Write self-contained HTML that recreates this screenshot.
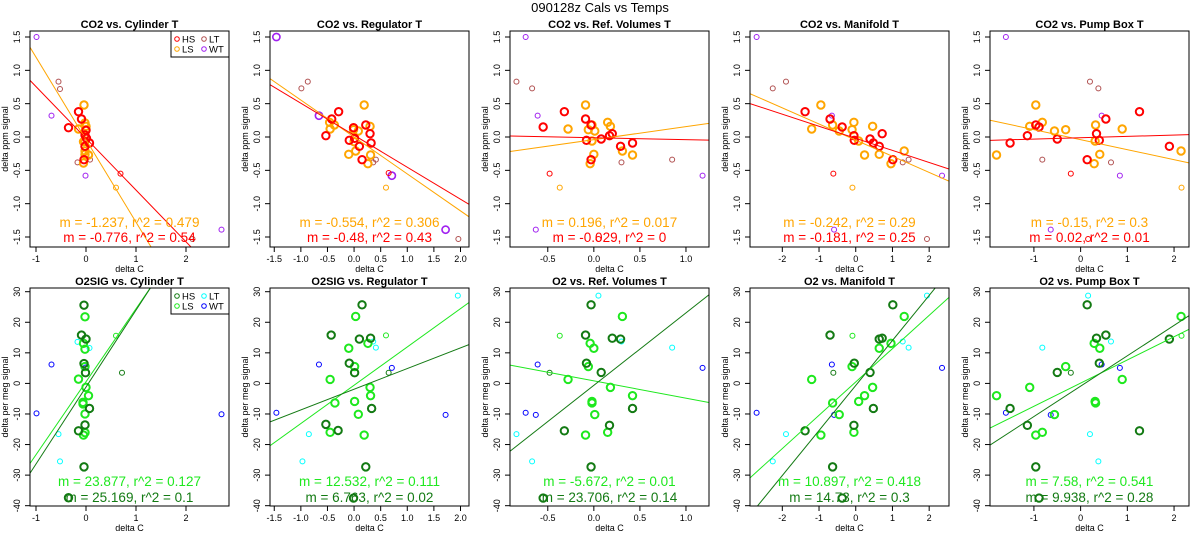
<!DOCTYPE html>
<html><head><meta charset="utf-8"><style>
body{margin:0;background:#fff;}
svg{display:block;font-family:"Liberation Sans",sans-serif;}
</style></head><body>
<svg id="chart" width="1200" height="550" viewBox="0 0 1200 550">
<rect x="0" y="0" width="1200" height="550" fill="#fff"/>
<text x="600" y="12" text-anchor="middle" font-size="13">090128z   Cals vs Temps</text>
</svg>
<script>
// ---- axis ranges / ticks per column ----
const colXMin=[-1.12,-1.58,-0.91,-2.88,-1.94];
const colXMax=[2.86,2.16,1.25,2.54,2.32];
const colXTicks=[[-1,0,1,2],[-1.5,-1,-0.5,0,0.5,1,1.5,2],[-0.5,0,0.5,1],[-2,-1,0,1,2],[-1,0,1,2]];
const colXTickLabels=[["-1","0","1","2"],["-1.5","-1.0","-0.5","0.0","0.5","1.0","1.5","2.0"],["-0.5","0.0","0.5","1.0"],["-2","-1","0","1","2"],["-1","0","1","2"]];
const topYTicks=[-1.5,-1,-0.5,0,0.5,1,1.5];
const topYTickLabels=["-1.5","-1.0","-0.5","0.0","0.5","1.0","1.5"];
const botYTicks=[-40,-30,-20,-10,0,10,20,30];
const botYTickLabels=["-40","-30","-20","-10","0","10","20","30"];
const topTitles=["CO2 vs. Cylinder T","CO2 vs. Regulator T","CO2 vs. Ref. Volumes T","CO2 vs. Manifold T","CO2 vs. Pump Box T"];
const botTitles=["O2SIG vs. Cylinder T","O2SIG vs. Regulator T","O2 vs. Ref. Volumes T","O2 vs. Manifold T","O2 vs. Pump Box T"];

// ---- CO2 (top row) data ----
const co2HS=[
[[-0.35,0.14],[-0.15,0.38],[-0.09,0.27],[-0.02,0.03],[0,0.1],[0.07,-0.09],[-0.02,-0.14],[-0.04,-0.34],[0.01,-0.02]],
[[-0.29,0.38],[-0.42,0.27],[-0.53,0.02],[-0.01,0.14],[0.01,-0.02],[-0.09,-0.05],[0.1,-0.14],[0.22,0.18],[0.3,0.05],[0.32,-0.09],[0.15,-0.34]],
[[-0.55,0.15],[-0.32,0.38],[-0.09,0.27],[-0.03,0.18],[-0.08,-0.05],[0.08,-0.03],[-0.03,-0.34],[0.17,0.02],[0.2,0.05],[0.29,-0.14],[0.42,-0.09]],
[[-1.38,0.38],[-0.7,0.27],[-0.37,0.15],[-0.05,0.02],[-0.04,-0.05],[0.39,-0.03],[0.48,-0.09],[0.64,-0.14],[0.72,0.05],[1.01,-0.34]],
[[-1.51,-0.09],[-1.14,0.02],[-0.96,0.18],[-0.89,0.15],[-0.5,-0.03],[0.14,-0.34],[0.34,0.05],[0.4,-0.05],[0.54,0.27],[1.26,0.38],[1.9,-0.14]]];
const co2HSsmall=[[[0.69,-0.55]],[[0.65,-0.54]],[[-0.48,-0.55],[0.05,-1.53]],[[-0.61,-0.55]],[[-0.21,-0.55],[0.16,-1.53]]];
const co2LS=[
[[-0.04,0.48],[-0.15,0.12],[-0.02,0.21],[0,0.11],[-0.02,-0.06],[-0.05,-0.07],[-0.02,-0.21],[-0.02,-0.26],[0.05,-0.27],[-0.05,-0.39],[0,0.16]],
[[0.19,0.48],[-0.46,0.22],[-0.45,0.12],[-0.37,0.18],[-0.01,0.11],[0.08,0.09],[0,-0.07],[0.03,-0.21],[-0.1,-0.26],[0.3,0.16],[0.31,-0.27],[0.26,-0.4]],
[[-0.09,0.48],[-0.28,0.12],[-0.06,0.11],[-0.02,0.18],[0.01,0.09],[-0.02,-0.06],[0,-0.26],[-0.04,-0.4],[0.15,0.22],[0.18,0.16],[0.31,-0.21],[0.42,-0.27]],
[[-0.95,0.48],[-1.2,0.12],[-0.63,0.18],[-0.45,0.09],[-0.1,0.11],[-0.05,0.22],[0.08,-0.06],[0.46,0.16],[0.24,-0.27],[0.64,-0.26],[0.96,-0.4],[1.32,-0.21]],
[[-1.8,-0.27],[-1.09,0.16],[-0.96,0.48],[-0.82,0.22],[-0.56,0.09],[-0.32,0.11],[0.32,0.18],[0.31,-0.06],[0.29,-0.4],[0.41,-0.26],[0.89,0.12],[2.15,-0.21]]];
const co2LSsmall=[[[0.6,-0.76]],[[0.6,-0.76]],[[-0.37,-0.76]],[[-0.09,-0.76]],[[2.16,-0.76]]];
const co2LT=[
[[-0.55,0.83],[-0.52,0.72],[-0.17,-0.38],[0.08,-0.34],[2.13,-1.53]],
[[-0.99,0.73],[-0.87,0.83],[0.36,-0.38],[0.41,-0.34],[1.96,-1.53]],
[[-0.84,0.83],[-0.67,0.73],[0.3,-0.38],[0.85,-0.34]],
[[-2.26,0.73],[-1.9,0.83],[1.28,-0.38],[1.44,-0.34],[1.94,-1.53]],
[[-0.82,-0.34],[0.2,0.83],[0.38,0.73],[0.65,-0.38]]];
const co2WT=[
[[-0.99,1.5],[-0.69,0.32],[-0.01,-0.58],[2.71,-1.39]],
[[-1.46,1.5],[-0.66,0.32],[0.71,-0.58],[1.72,-1.39]],
[[-0.74,1.5],[-0.61,0.32],[1.18,-0.58],[-0.63,-1.39]],
[[-2.7,1.5],[-0.65,0.32],[2.35,-0.58],[-0.59,-1.39]],
[[-1.6,1.5],[0.45,0.32],[0.84,-0.58],[-0.64,-1.39]]];
const co2LSslope=[-1.237,-0.554,0.196,-0.242,-0.15];
const co2LSint=[-0.04,0.0,-0.04,-0.047,-0.04];
const co2HSslope=[-0.776,-0.48,-0.029,-0.181,0.02];
const co2HSint=[-0.02,0.027,-0.011,-0.02,-0.011];
const co2LSlabel=["m = -1.237, r^2 = 0.479","m = -0.554, r^2 = 0.306","m = 0.196, r^2 = 0.017","m = -0.242, r^2 = 0.29","m = -0.15, r^2 = 0.3"];
const co2HSlabel=["m = -0.776, r^2 = 0.54","m = -0.48, r^2 = 0.43","m = -0.029, r^2 = 0","m = -0.181, r^2 = 0.25","m = 0.02, r^2 = 0.01"];

// ---- O2 (bottom row) data ----
const o2HS=[
[[-0.04,25.6],[-0.09,15.8],[0,14.5],[-0.04,6.5],[-0.01,3.5],[-0.02,-13.6],[-0.15,-15.5],[-0.04,-27.3],[-0.35,-37.4],[0.07,-8.2]],
[[0.15,25.7],[-0.43,15.8],[0.1,14.5],[0.31,14.8],[-0.09,6.6],[0.01,3.5],[-0.53,-13.4],[-0.3,-15.4],[0.33,-8.2],[0.22,-27.3],[-0.01,-37.5]],
[[-0.03,25.7],[-0.09,15.8],[0.2,14.8],[0.29,14.5],[-0.08,6.6],[0.08,3.6],[-0.32,-15.5],[0.17,-13.7],[0.42,-8.2],[-0.03,-27.3],[-0.55,-37.5]],
[[1.01,25.7],[-0.7,15.8],[0.64,14.5],[0.72,14.8],[-0.04,6.6],[0.39,3.6],[-1.38,-15.5],[-0.05,-13.7],[0.48,-8.2],[-0.63,-27.3],[-0.37,-37.5]],
[[0.14,25.7],[0.54,15.8],[0.34,14.8],[1.9,14.5],[0.4,6.6],[-0.5,3.6],[1.26,-15.5],[-1.14,-13.7],[-1.51,-8.2],[-0.96,-27.3],[-0.89,-37.5]]];
const o2HSsmall=[[[0.72,3.5]],[[0.65,3.5]],[[-0.48,3.5]],[[-0.61,3.5]],[[-0.21,3.5]]];
const o2LS=[
[[-0.02,21.8],[-0.05,13.1],[-0.02,11.2],[-0.02,5.5],[-0.15,1.4],[0,-1.3],[0.05,-4],[-0.06,-6.2],[-0.06,-6.7],[-0.02,-10],[-0.02,-16.1],[-0.05,-16.9]],
[[0.03,21.9],[-0.1,11.5],[0.26,13.1],[0.01,5.5],[-0.45,1.3],[0.3,-1.3],[0.31,-4],[-0.36,-6.4],[0.01,-5.9],[0.08,-10.1],[-0.45,-16],[0.19,-16.9]],
[[0.31,21.9],[-0.04,13.1],[0,11.5],[-0.06,5.5],[-0.28,1.3],[0.18,-1.3],[0.42,-4],[-0.02,-5.9],[-0.02,-6.4],[0.01,-10.2],[-0.09,-16.9],[0.15,-16]],
[[1.32,21.9],[0.96,13.1],[0.64,11.5],[-0.1,5.5],[-1.2,1.3],[0.46,-1.3],[0.24,-4],[0.08,-5.9],[-0.63,-6.4],[-0.45,-10.2],[-0.95,-16.9],[-0.05,-16]],
[[2.15,21.9],[0.29,13.1],[0.41,11.5],[-0.32,5.5],[0.89,1.3],[-1.09,-1.3],[-1.8,-4],[0.31,-5.9],[0.32,-6.4],[-0.56,-10.2],[-0.96,-16.9],[-0.82,-16]]];
const o2LSsmall=[[[0.6,15.6]],[[0.6,15.7]],[[-0.37,15.6]],[[-0.09,15.6]],[[2.16,15.6]]];
const o2LT=[
[[-0.17,13.6],[0.07,11.6],[-0.55,-16.6],[-0.52,-25.5]],
[[0.36,13.7],[0.41,11.7],[-0.85,-16.6],[-0.97,-25.5],[1.95,28.7]],
[[0.05,28.7],[0.3,13.7],[0.85,11.7],[-0.84,-16.6],[-0.67,-25.5]],
[[1.94,28.7],[1.28,13.7],[1.44,11.7],[-1.9,-16.6],[-2.26,-25.5]],
[[0.16,28.7],[0.65,13.7],[-0.82,11.7],[0.2,-16.6],[0.38,-25.5]]];
const o2WT=[
[[-0.99,-9.8],[-0.69,6.2],[-0.01,5.2],[2.71,-10.1]],
[[-1.46,-9.6],[-0.66,6.2],[0.71,5.1],[1.72,-10.3]],
[[-0.61,6.2],[-0.74,-9.6],[-0.63,-10.3],[1.18,5.1]],
[[-0.65,6.2],[-2.7,-9.6],[-0.59,-10.3],[2.35,5.1]],
[[0.45,6.2],[-1.6,-9.6],[-0.64,-10.3],[0.84,5.1]]];
const o2LSslope=[23.877,12.532,-5.672,10.897,7.58];
const o2LSint=[0.54,-0.6,0.84,0.48,0.1];
const o2HSslope=[25.169,6.763,23.706,14.73,9.938];
const o2HSint=[-1.2,-1.9,-0.63,-0.67,-0.9];
const o2LSlabel=["m = 23.877, r^2 = 0.127","m = 12.532, r^2 = 0.111","m = -5.672, r^2 = 0.01","m = 10.897, r^2 = 0.418","m = 7.58, r^2 = 0.541"];
const o2HSlabel=["m = 25.169, r^2 = 0.1","m = 6.763, r^2 = 0.02","m = 23.706, r^2 = 0.14","m = 14.73, r^2 = 0.3","m = 9.938, r^2 = 0.28"];

const NS='http://www.w3.org/2000/svg';
const svg=document.getElementById('chart');
function mk(tag,attrs,parent){const e=document.createElementNS(NS,tag);for(const k in attrs)e.setAttribute(k,attrs[k]);(parent||svg).appendChild(e);return e;}

function drawPanel(row,c){
  const L=30+240*c, R=229+240*c;
  const T=row===0?31:288, B=row===0?247:506;
  const xmin=colXMin[c], xmax=colXMax[c];
  const sx=v=>L+(v-xmin)/(xmax-xmin)*(R-L);
  const sy=row===0?(v=>37+(1.5-v)*66.67):(v=>291.7+(30-v)*3.057);
  const g=mk('g',{});
  
  
  const cid='clip'+row+'_'+c;
  const cp=mk('clipPath',{id:cid},g);
  mk('rect',{x:L,y:T,width:R-L,height:B-T},cp);
  const t=mk('text',{x:(L+R)/2,y:T-3,'text-anchor':'middle','font-size':'11','font-weight':'bold'},g);
  t.textContent=(row===0?topTitles:botTitles)[c];
  
  
  colXTicks[c].forEach((v,i)=>{
    const x=sx(v);
    const tk=mk('line',{x1:x,x2:x,y1:B,y2:B+5,stroke:'#000','stroke-width':1},g);
    
    
    const lb=mk('text',{x:x,y:B+15,'text-anchor':'middle','font-size':'9'},g);
    lb.textContent=colXTickLabels[c][i];
    
    
  });
  const yt=row===0?topYTicks:botYTicks, yl=row===0?topYTickLabels:botYTickLabels;
  yt.forEach((v,i)=>{
    const y=sy(v);
    const tk=mk('line',{x1:L-5,x2:L,y1:y,y2:y,stroke:'#000','stroke-width':1},g);
    
    
    const lb=mk('text',{x:L-10,y:y,'text-anchor':'middle','font-size':'9',transform:`rotate(-90 ${L-10} ${y})`},g);
    lb.textContent=yl[i];
    
    
  });
  const xt=mk('text',{x:(L+R)/2,y:B+25,'text-anchor':'middle','font-size':'9'},g);
  xt.textContent='delta C';
  
  
  const ym=(T+B)/2;
  const ytl=mk('text',{x:L-22,y:ym,'text-anchor':'middle','font-size':'9',transform:`rotate(-90 ${L-22} ${ym})`},g);
  ytl.textContent=row===0?'delta ppm signal':'delta per meg signal';
  
  

  const cHS=row===0?'#ff0000':'#137a13', cLS=row===0?'#ffa500':'#1ee81e';
  const cLT=row===0?'#b05050':'#00ffff', cWT=row===0?'#a020f0':'#0000ff';
  const D=row===0?[co2HS,co2HSsmall,co2LS,co2LSsmall,co2LT,co2WT]:[o2HS,o2HSsmall,o2LS,o2LSsmall,o2LT,o2WT];
  const pts=mk('g',{'clip-path':`url(#${cid})`},g);
  function pts_(arr,col,r,w,name){
    arr.forEach(p=>{
      const ci=mk('circle',{cx:sx(p[0]),cy:sy(p[1]),r:r,fill:'none',stroke:col,'stroke-width':w},pts);
      
      
    });
  }
  pts_(D[4][c],cLT,2.5,1,'lt-point');
  pts_(D[5][c],cWT,row===0&&c===1?3.6:2.5,row===0&&c===1?1.6:1,'wt-point');
  pts_(D[3][c],cLS,2.5,1,'ls-small-point');
  pts_(D[1][c],cHS,2.5,1,'hs-small-point');
  pts_(D[2][c],cLS,3.7,2,'ls-point');
  pts_(D[0][c],cHS,3.7,2,'hs-point');
  const lsS=row===0?co2LSslope:o2LSslope, lsI=row===0?co2LSint:o2LSint;
  const hsS=row===0?co2HSslope:o2HSslope, hsI=row===0?co2HSint:o2HSint;
  [[lsS,lsI,cLS,'ls-fit-line'],[hsS,hsI,cHS,'hs-fit-line']].forEach(a=>{
    const m=a[0][c], b=a[1][c];
    const ln=mk('line',{x1:sx(xmin),y1:sy(m*xmin+b),x2:sx(xmax),y2:sy(m*xmax+b),stroke:a[2],'stroke-width':1},pts);
    
    
  });
  const a1=mk('text',{x:(L+R)/2,y:row===0?227:486,'text-anchor':'middle','font-size':'13.5',fill:cLS},g);
  a1.textContent=(row===0?co2LSlabel:o2LSlabel)[c];
  
  
  const a2=mk('text',{x:(L+R)/2,y:row===0?242:502,'text-anchor':'middle','font-size':'13.5',fill:cHS},g);
  a2.textContent=(row===0?co2HSlabel:o2HSlabel)[c];
  
  
  const bx=mk('rect',{x:L,y:T,width:R-L,height:B-T,fill:'none',stroke:'#000','stroke-width':1},g);
  
  
  if(c===0){
    const lg=mk('g',{},g);
    
    
    mk('rect',{x:R-58,y:T,width:58,height:26,fill:'#fff',stroke:'#000','stroke-width':1},lg);
    const ent=[['HS',cHS,0,0],['LT',cLT,1,0],['LS',cLS,0,1],['WT',cWT,1,1]];
    ent.forEach(e=>{
      const ex=R-52+e[2]*27, ey=T+8+e[3]*10;
      const eg=mk('g',{},lg);
      
      
      mk('circle',{cx:ex,cy:ey,r:2.3,fill:'none',stroke:e[1],'stroke-width':1},eg);
      const tt=mk('text',{x:ex+5,y:ey+3.5,'font-size':'9.5'},eg);
      tt.textContent=e[0];
    });
  }
}
for(let r=0;r<2;r++)for(let c=0;c<5;c++)drawPanel(r,c);
</script>
</body></html>
